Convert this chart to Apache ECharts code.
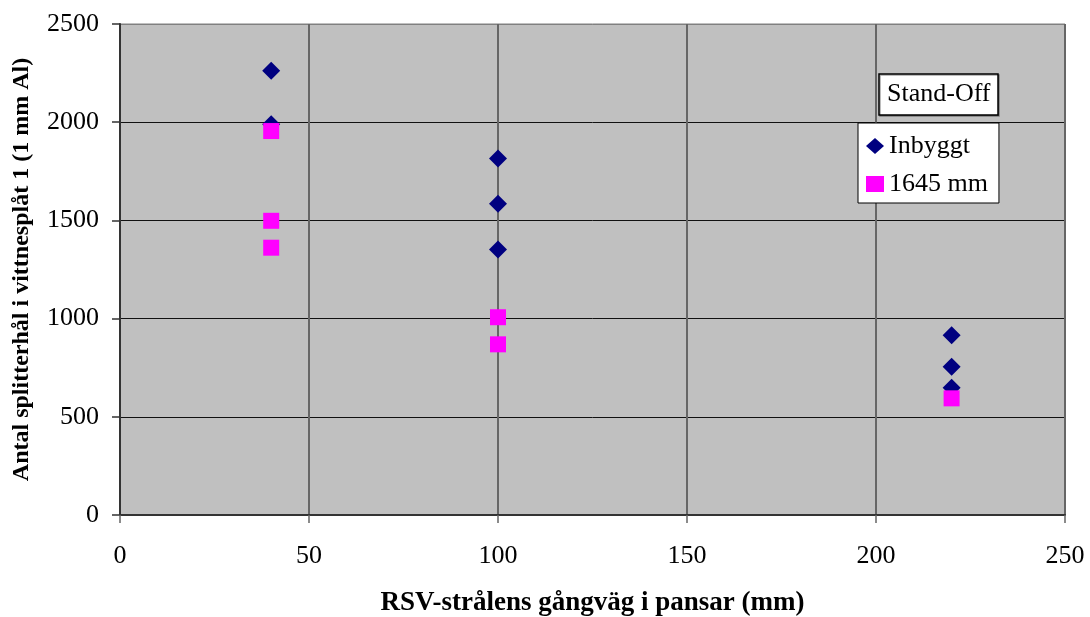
<!DOCTYPE html>
<html>
<head>
<meta charset="utf-8">
<script src="https://cdn.jsdelivr.net/npm/echarts@6/dist/echarts.min.js"></script>
<style>
  html, body { margin: 0; padding: 0; background: #fff; }
  #chart { width: 1090px; height: 617px; }
</style>
</head>
<body>
<div id="chart"></div>
<script>
// RSV path length in armour (mm) vs. number of fragment holes
const inbyggtX = [40, 40, 100, 100, 100, 220, 220, 220]
const inbyggtY = [2262, 1990, 1815, 1585, 1352, 915, 755, 648]
const mm1645X = [40, 40, 40, 100, 100, 220]
const mm1645Y = [1955, 1498, 1361, 1007, 869, 594]

const seriesNames = ['Inbyggt', '1645 mm']
const legendTitle = 'Stand-Off'
const xTitle = 'RSV-strålens gångväg i pansar (mm)'
const yTitle = 'Antal splitterhål i vittnesplåt 1 (1 mm Al)'

const font = '"Liberation Serif", "Times New Roman", serif'

function pairs(xs, ys) {
  return xs.map((x, i) => [x, ys[i]])
}

const chart = echarts.init(document.getElementById('chart'))

chart.setOption({
  animation: false,
  textStyle: { fontFamily: font },
  title: {
    text: legendTitle,
    left: 879,
    top: 74,
    padding: [7, 8, 7, 8],
    backgroundColor: '#fff',
    borderColor: '#000',
    borderWidth: 1.5,
    shadowColor: 'rgba(0,0,0,0.35)',
    shadowOffsetX: 1,
    shadowOffsetY: 1,
    textStyle: { fontFamily: font, fontSize: 26, lineHeight: 27, fontWeight: 'normal', color: '#000' }
  },
  legend: {
    orient: 'vertical',
    left: 858,
    top: 123,
    padding: [10, 11, 6, 8],
    itemGap: 12,
    itemWidth: 18,
    itemHeight: 16,
    backgroundColor: '#fff',
    borderColor: '#000',
    borderWidth: 1,
    textStyle: { fontFamily: font, fontSize: 26, color: '#000' },
    data: [
      { name: seriesNames[0], icon: 'diamond' },
      { name: seriesNames[1], icon: 'rect' }
    ]
  },
  grid: {
    left: 120,
    right: 25,
    top: 24,
    bottom: 102,
    containLabel: false,
    outerBoundsMode: 'none',
    show: true,
    backgroundColor: '#c0c0c0',
    borderColor: '#808080',
    borderWidth: 1
  },
  xAxis: {
    type: 'value',
    min: 0,
    max: 250,
    interval: 50,
    name: xTitle,
    nameLocation: 'middle',
    nameGap: 75,
    nameTextStyle: { fontFamily: font, fontSize: 27, fontWeight: 'bold', color: '#000' },
    axisLine: { show: true, lineStyle: { color: '#333', width: 2 } },
    axisTick: { show: true, length: 8, lineStyle: { color: '#666', width: 1.5 } },
    axisLabel: { fontFamily: font, fontSize: 26, color: '#000', margin: 28 },
    splitLine: { show: true, lineStyle: { color: '#666', width: 2 } }
  },
  yAxis: {
    type: 'value',
    min: 0,
    max: 2500,
    interval: 500,
    name: yTitle,
    nameLocation: 'middle',
    nameRotate: 90,
    nameGap: 86,
    nameTextStyle: { fontFamily: font, fontSize: 24, fontWeight: 'bold', color: '#000' },
    axisLine: { show: true, lineStyle: { color: '#333', width: 2 } },
    axisTick: { show: true, length: 8, lineStyle: { color: '#333', width: 1.5 } },
    axisLabel: {
      fontFamily: font,
      fontSize: 26,
      color: '#000',
      margin: 21,
      formatter: (v) => String(v)
    },
    splitLine: {
      show: true,
      lineStyle: { color: ['#111', '#111', '#111', '#111', '#111', '#808080'], width: 1 }
    }
  },
  series: [
    {
      name: seriesNames[0],
      type: 'scatter',
      symbol: 'diamond',
      symbolSize: [18, 18],
      itemStyle: { color: '#000080', opacity: 1 },
      data: pairs(inbyggtX, inbyggtY)
    },
    {
      name: seriesNames[1],
      type: 'scatter',
      symbol: 'rect',
      symbolSize: [16, 16],
      itemStyle: { color: '#ff00ff', opacity: 1 },
      data: pairs(mm1645X, mm1645Y)
    }
  ]
})
</script>
</body>
</html>
